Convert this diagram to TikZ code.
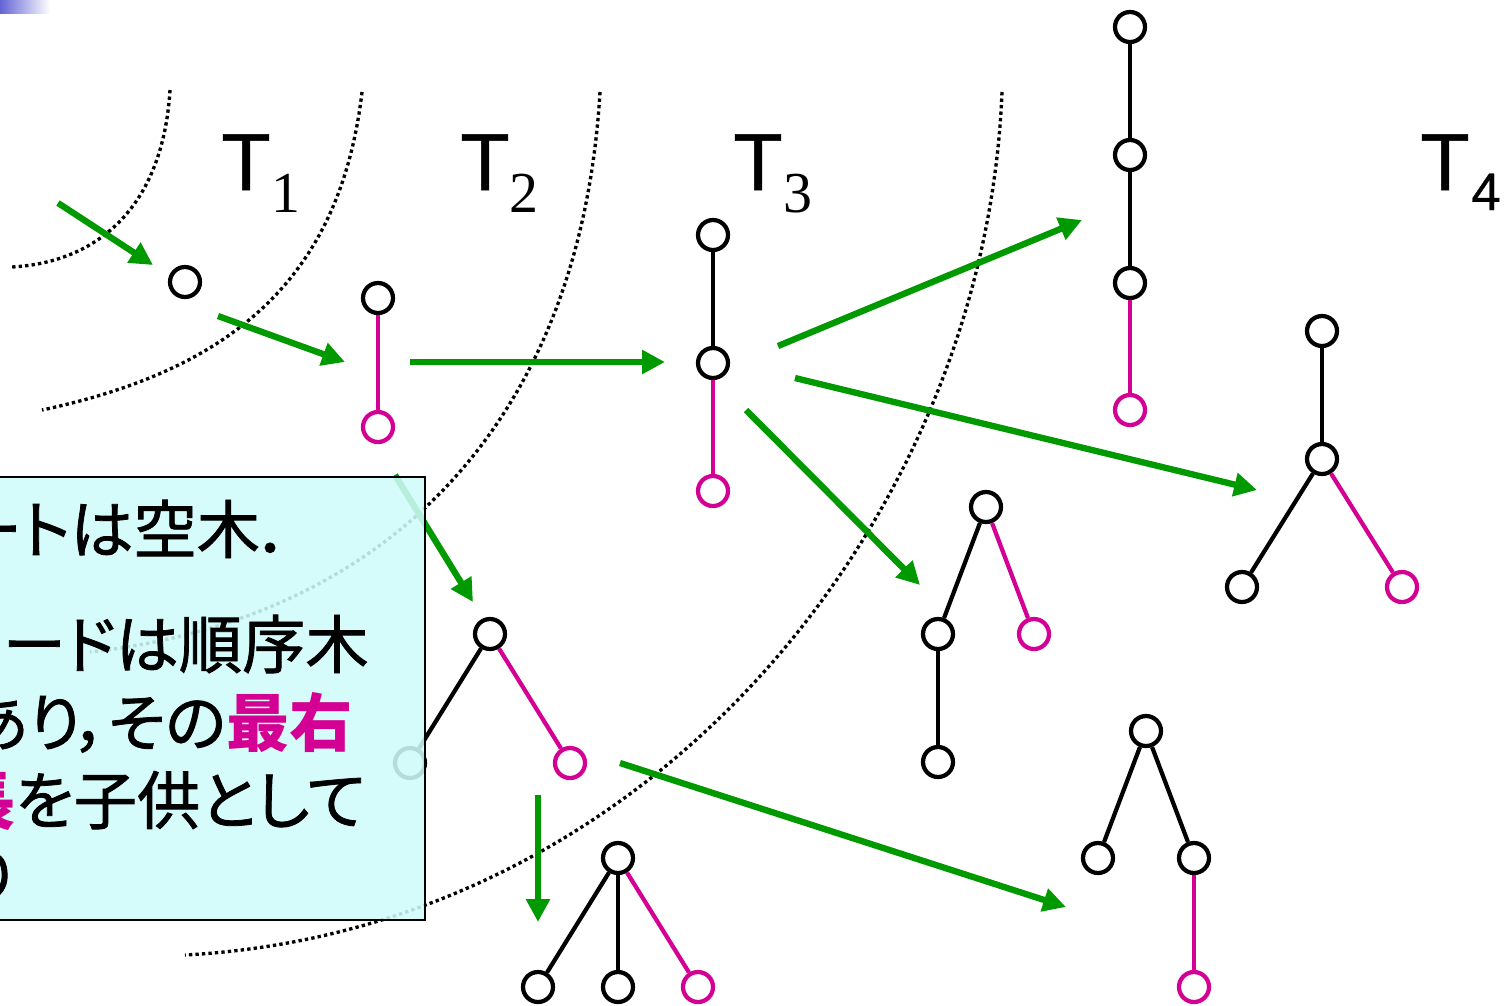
\documentclass[tikz,border=0pt]{standalone}
\usepackage{fontspec}
\newfontfamily\sansT[FakeBold=0.6]{Liberation Sans}
\newfontfamily\serifT{Liberation Serif}
\newfontfamily\jpf[RawFeature=+palt, UprightFeatures={FakeBold=1.2}]{Noto Sans CJK JP}
\usetikzlibrary{arrows.meta}
\definecolor{grn}{RGB}{0,153,0}
\definecolor{mag}{RGB}{212,0,148}
\definecolor{boxc}{RGB}{208,250,250}
\definecolor{gblue}{RGB}{100,100,215}
\tikzset{
  nd/.style={circle, draw, line width=2.4pt, minimum size=0.6cm, inner sep=0pt, fill=white},
  nm/.style={nd, draw=mag},
  blk/.style={line width=2.4pt, black},
  pnk/.style={line width=2.4pt, mag},
  arr/.style={line width=3.6pt, grn, -{Triangle[length=13pt,width=13pt]}},
  dotc/.style={line width=1.9pt, dash pattern=on 1.9pt off 1.8pt},
  tbig/.style={inner sep=0pt, anchor=base west, font=\sansT\fontsize{46}{50}\selectfont},
  tsub/.style={inner sep=0pt, anchor=base west, font=\serifT\fontsize{33}{36}\selectfont},
  jline/.style={inner sep=0pt, anchor=base east, font=\jpf\fontsize{36}{40}\selectfont}
}
\begin{document}
\begin{tikzpicture}[x=0.02cm,y=-0.02cm]
\useasboundingbox (0,0) rectangle (1505,1005);
\clip (0,0) rectangle (1505,1005);
\shade[left color=gblue, right color=white] (0,0) rectangle (50,13);

% dotted boundaries
\draw[dotc] (170,90) .. controls (163,205) and (100,262) .. (12,267);
\draw[dotc] (362,92) .. controls (340,280) and (230,370) .. (42,410);
\draw[dotc] (600,92) .. controls (580,430) and (380,620) .. (90,652);
\draw[dotc] (1002,92) .. controls (985,520) and (650,930) .. (185,955);

% labels
\node[tbig] (T1) at (221,190) {T};
\node[tsub] (s1) at (271,212) {1};
\node[tbig] (T2) at (460,190) {T};
\node[tsub] (s2) at (509,212) {2};
\node[tbig] (T3) at (733,190) {T};
\node[tsub] (s3) at (783,212) {3};
\node[tbig] (T4) at (1420,190) {T};
\node[tsub, font=\sansT\fontsize{30}{34}\selectfont] (s4) at (1471,210) {4};

% arrows
\coordinate (a1s) at (58,203);  \coordinate (a1e) at (153,265);
\coordinate (a2s) at (218,316); \coordinate (a2e) at (345,362);
\coordinate (a3s) at (410,362); \coordinate (a3e) at (665,362);
\coordinate (a4s) at (395,475); \coordinate (a4e) at (473,602);
\coordinate (a5s) at (538,795); \coordinate (a5e) at (538,922);
\coordinate (a6s) at (778,346); \coordinate (a6e) at (1082,220);
\coordinate (a7s) at (795,378); \coordinate (a7e) at (1257,490);
\coordinate (a8s) at (746,410); \coordinate (a8e) at (920,585);
\coordinate (a9s) at (620,763); \coordinate (a9e) at (1066,907);
\foreach \i in {1,...,9} \draw[arr] (a\i s) -- (a\i e);

% trees
\node[nd] (t1) at (185,282) {};

\node[nd] (t2a) at (378,298) {};
\node[nm] (t2b) at (378,427) {};
\draw[pnk] (t2a) -- (t2b);

\node[nd] (t2c) at (490,634) {};
\node[nd] (t2d) at (410,763) {};
\node[nm] (t2e) at (570,763) {};
\draw[blk] (t2c) -- (t2d);
\draw[pnk] (t2c) -- (t2e);

\node[nd] (t3a) at (713,235) {};
\node[nd] (t3b) at (713,363) {};
\node[nm] (t3c) at (713,491) {};
\draw[blk] (t3a) -- (t3b);
\draw[pnk] (t3b) -- (t3c);

\node[nd] (t3d) at (618,858) {};
\node[nd] (t3e) at (538,987) {};
\node[nd] (t3f) at (618,987) {};
\node[nm] (t3g) at (698,987) {};
\draw[blk] (t3d) -- (t3e);
\draw[blk] (t3d) -- (t3f);
\draw[pnk] (t3d) -- (t3g);

\node[nd] (t4a) at (1130,27) {};
\node[nd] (t4b) at (1130,155) {};
\node[nd] (t4c) at (1130,283) {};
\node[nm] (t4d) at (1130,410) {};
\draw[blk] (t4a) -- (t4b);
\draw[blk] (t4b) -- (t4c);
\draw[pnk] (t4c) -- (t4d);

\node[nd] (t4e) at (1322,331) {};
\node[nd] (t4f) at (1322,459) {};
\node[nd] (t4g) at (1242,587) {};
\node[nm] (t4h) at (1402,587) {};
\draw[blk] (t4e) -- (t4f);
\draw[blk] (t4f) -- (t4g);
\draw[pnk] (t4f) -- (t4h);

\node[nd] (t4i) at (986,507) {};
\node[nd] (t4j) at (938,634) {};
\node[nm] (t4k) at (1034,634) {};
\node[nd] (t4l) at (938,762) {};
\draw[blk] (t4i) -- (t4j);
\draw[pnk] (t4i) -- (t4k);
\draw[blk] (t4j) -- (t4l);

\node[nd] (t4m) at (1146,731) {};
\node[nd] (t4n) at (1098,858) {};
\node[nd] (t4o) at (1194,858) {};
\node[nm] (t4p) at (1194,987) {};
\draw[blk] (t4m) -- (t4n);
\draw[blk] (t4m) -- (t4o);
\draw[pnk] (t4o) -- (t4p);

% text box
\path[fill=boxc, fill opacity=0.88] (-10,477) rectangle (425,920);
\draw[line width=1.5pt] (-10,477) rectangle (425,920);
\node[jline] (l1) at (292,553) {ートは空木．};
\node[jline] (l2) at (369,668) {ードは順序木};
\node[jline] (l3) at (353,746) {あり，その{\bfseries\color{mag}最右}};
\node[jline] (l4) at (366,824) {{\bfseries\color{mag}長}を子供として};
\node[jline] (l5) at (14,900) {り};
\end{tikzpicture}
\end{document}
